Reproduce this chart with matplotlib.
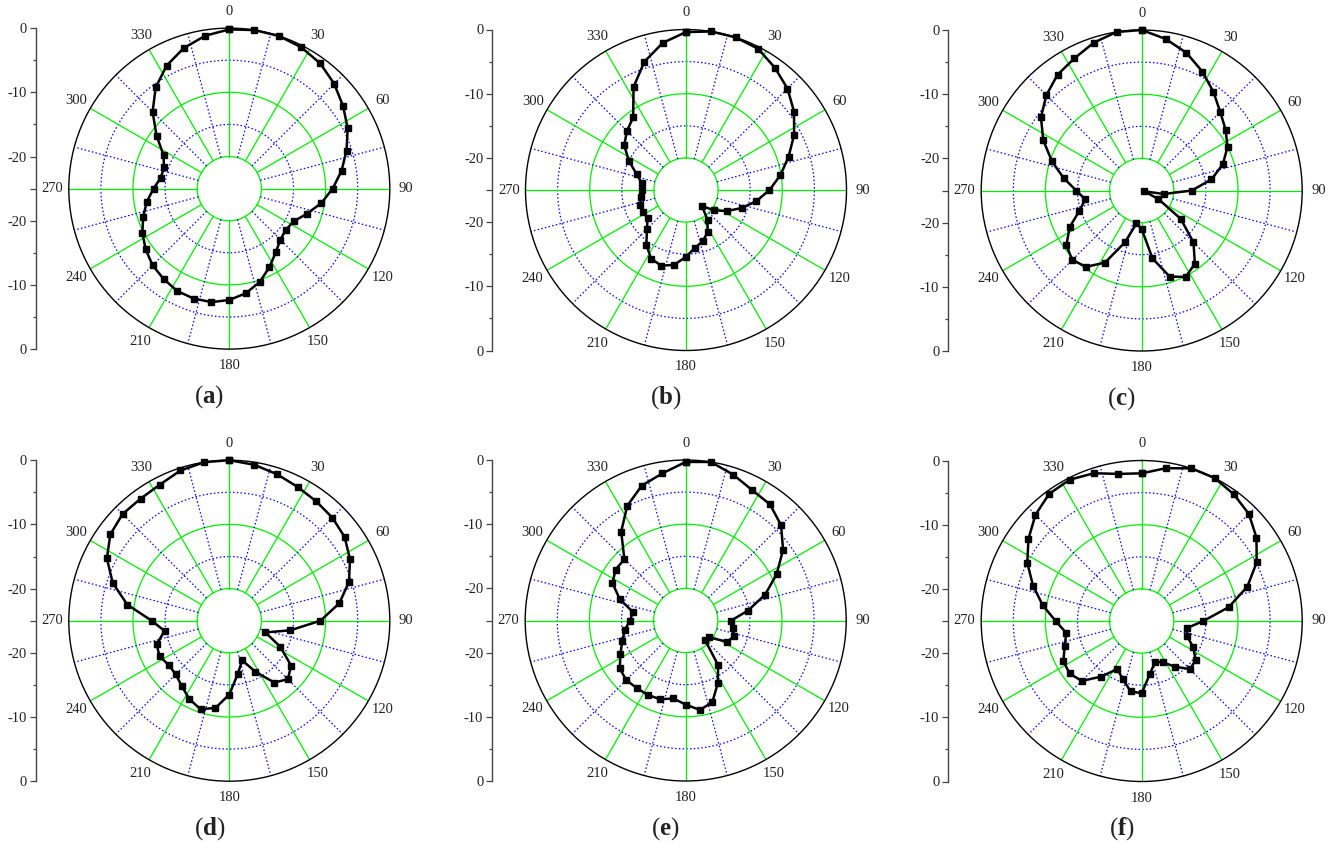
import numpy as np
import matplotlib
matplotlib.use('Agg')
import matplotlib.pyplot as plt

plt.rcParams['font.family'] = ['Liberation Serif', 'DejaVu Serif']
plt.rcParams['mathtext.fontset'] = 'custom'
plt.rcParams['mathtext.rm'] = 'Liberation Serif'
plt.rcParams['mathtext.bf'] = 'Liberation Serif:bold'

# ---------------- data (normalised gain, dB) ----------------
angles_deg = list(range(0, 360, 9))

gain_a = [-0.2, 0.0, 0.0, -0.3, -0.9, -1.9, -3.1, -4.3, -5.8, -7.3,
          -8.9, -10.5, -12.3, -13.75, -14.1, -13.75, -12.7, -11.25, -9.7, -8.5,
          -7.65, -7.1, -7.0, -7.1, -7.6, -8.1, -8.9, -9.8, -10.9, -12.0,
          -13.2, -14.2, -14.3, -13.5, -11.0, -8.1, -5.5, -3.5, -2.0, -0.9]

gain_b = [-0.4, 0.0, 0.0, -0.3, -1.45, -2.65, -4.2, -6.1, -8.2, -10.1,
          -12.0, -13.9, -15.9, -17.8, -19.6, -21.5, -19.3, -17.6, -16.6, -15.9,
          -14.6, -13.2, -12.6, -13.0, -14.5, -16.4, -17.6, -17.5, -17.5, -17.9,
          -18.1, -18.0, -16.9, -15.0, -13.1, -12.0, -11.0, -7.0, -4.0, -1.8]

gain_c = [0.0, -1.1, -2.45, -4.2, -6.0, -7.7, -8.85, -10.0, -11.7, -14.0,
          -17.2, -21.5, -24.6, -22.1, -17.5, -13.6, -10.9, -9.9, -10.9, -14.3,
          -19.0, -19.8, -16.5, -12.4, -10.3, -9.7, -10.5, -12.4, -14.8, -16.1,
          -14.8, -12.7, -10.3, -7.8, -5.6, -4.0, -2.7, -1.9, -0.8, 0.0]

gain_d = [0.0, -0.4, -1.0, -1.6, -2.0, -2.3, -2.8, -3.9, -5.4, -7.65,
          -10.8, -15.4, -19.1, -16.1, -13.1, -12.1, -13.1, -16.1, -18.5, -16.6,
          -13.5, -11.25, -10.5, -11.3, -12.4, -13.2, -13.3, -12.8, -13.1, -14.8,
          -12.9, -8.9, -5.9, -3.6, -2.1, -1.5, -1.5, -1.2, -0.4, 0.0]

gain_e = [-0.3, 0.0, -1.1, -2.2, -2.65, -4.0, -6.25, -9.1, -12.0, -15.2,
          -17.9, -17.5, -17.1, -17.7, -20.5, -20.8, -16.4, -14.0, -11.6, -10.9,
          -11.9, -12.7, -12.1, -12.0, -12.0, -11.9, -12.3, -13.6, -14.6, -15.4,
          -16.3, -16.7, -14.2, -12.2, -11.5, -11.5, -7.9, -4.95, -2.9, -1.8]

gain_f = [-2.0, -0.9, 0.0, 0.0, -0.6, -1.4, -2.9, -4.9, -7.7, -11.3,
          -15.4, -17.9, -17.6, -16.0, -14.6, -14.4, -16.2, -17.8, -18.3, -16.7,
          -13.75, -13.9, -15.5, -16.6, -14.3, -11.8, -11.1, -11.3, -12.4, -13.1,
          -11.6, -9.4, -7.2, -5.0, -3.2, -1.6, -0.5, -0.3, -0.8, -1.8]

panel_letters = ['a', 'b', 'c', 'd', 'e', 'f']
theta_tick_deg = [0, 30, 60, 90, 120, 150, 180, 210, 240, 270, 300, 330]
theta_tick_labels = ['0', '30', '60', '90', '120', '150', '180', '210', '240', '270', '300', '330']
side_tick_pos = [25, 15, 5, 0, -5, -15, -25]
side_tick_labels = ['0', '-10', '-20', '', '-20', '-10', '0']
side_minor_pos = [20, 10, -10, -20]

# ---------------- layout ----------------
W, H = 1331, 843
fig = plt.figure(figsize=(W / 100, H / 100), dpi=100)

centers = [(229.3, 188.6), (686.0, 190.0), (1141.7, 190.5),
           (229.3, 620.7), (685.7, 620.5), (1141.7, 621.0)]
R = 160.5
side_dx = 193.6
label_gap_px = 16.5   # distance of angle-label centre outside the rim

GREEN = '#00ee00'
BLUE = '#0000ff'
DOT = (0, (1.2, 1.8))
TXT = '#222222'

series = [gain_a, gain_b, gain_c, gain_d, gain_e, gain_f]

th_full = np.linspace(0, 2 * np.pi, 721)

for (cx, cy), vals, letter in zip(centers, series, panel_letters):
    ax = fig.add_axes([(cx - R) / W, 1 - (cy + R) / H, 2 * R / W, 2 * R / H],
                      projection='polar')
    ax.set_theta_zero_location('N')
    ax.set_theta_direction(-1)
    ax.set_ylim(-25, 0)
    ax.grid(False)
    ax.set_yticks([])

    # rings
    for lev, col, ls in [(-20, GREEN, '-'), (-15, BLUE, DOT), (-10, GREEN, '-'), (-5, BLUE, DOT)]:
        ax.plot(th_full, np.full_like(th_full, lev), color=col, lw=0.9, ls=ls, zorder=1)
    # spokes
    for k in range(24):
        th = np.deg2rad(15 * k)
        if k % 2 == 0:
            ax.plot([th, th], [-20, 0], color=GREEN, lw=0.9, ls='-', zorder=1)
        else:
            ax.plot([th, th], [-20, 0], color=BLUE, lw=0.9, ls=DOT, zorder=1)

    ax.set_xticks(np.deg2rad(theta_tick_deg))
    ax.set_xticklabels([])
    ax.tick_params(axis='x', direction='in', length=3.5, width=0.8, color='black')
    ax.spines['polar'].set_linewidth(1.0)
    ax.spines['polar'].set_color('black')

    # angle labels centred just outside the rim
    off_pt = label_gap_px * 72 / 100
    for deg, lab in zip(theta_tick_deg, theta_tick_labels):
        t = np.deg2rad(deg)
        ax.annotate(lab, xy=(t, 0), xycoords='data',
                    xytext=(off_pt * np.sin(t), off_pt * np.cos(t)), textcoords='offset points',
                    ha='center', va='center', fontsize=10.5, color=TXT, annotation_clip=False)

    th = np.deg2rad(angles_deg + [angles_deg[0]])
    ax.plot(th, vals + [vals[0]], color='black', lw=1.8, marker='s', ms=4.2,
            markerfacecolor='black', zorder=5, clip_on=False)

    # side dB scale
    lax = fig.add_axes([(cx - side_dx) / W, 1 - (cy + R) / H, 0.0008, 2 * R / H])
    lax.set_ylim(-25, 25)
    lax.set_yticks(side_tick_pos)
    lax.set_yticklabels(side_tick_labels, fontsize=10.5, color=TXT)
    lax.set_yticks(side_minor_pos, minor=True)
    lax.set_xticks([])
    for s in ['top', 'right', 'bottom']:
        lax.spines[s].set_visible(False)
    lax.spines['left'].set_color('#444444')
    lax.spines['left'].set_linewidth(1.0)
    lax.tick_params(axis='y', which='major', direction='out', length=4.3, width=0.9,
                    color='#444444', pad=2)
    lax.tick_params(axis='y', which='minor', direction='out', length=2.2, width=0.9,
                    color='#444444')
    lax.patch.set_visible(False)

    fig.text((cx - 20) / W, 1 - (cy + 208) / H, '(' + r'$\mathbf{' + letter + '}$' + ')',
             fontsize=18, ha='center', va='center', color=TXT)

fig.savefig('out.png', dpi=100)
